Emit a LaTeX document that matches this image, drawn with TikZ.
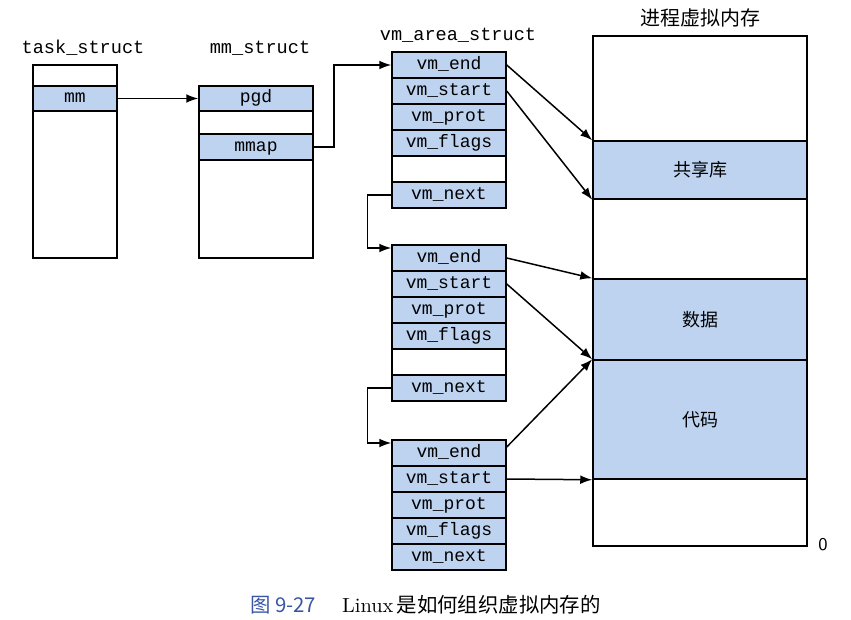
\documentclass[tikz,border=0pt]{standalone}
\usepackage{fontspec}
\setmonofont{Liberation Mono}
\newfontfamily\cjk{Noto Sans CJK SC}
\usetikzlibrary{arrows.meta}
\definecolor{fieldblue}{RGB}{190,211,240}
\definecolor{capblue}{RGB}{55,85,165}
\tikzset{
  slot/.style={draw, line width=0.75pt, minimum width=57pt, minimum height=13pt,
    inner sep=0pt, text height=6.3pt, text depth=1.8pt,
    font=\fontsize{9}{10}\selectfont\ttfamily},
  field/.style={slot, fill=fieldblue},
  gap/.style={slot, fill=white},
  band/.style={draw, fill=fieldblue, line width=0.75pt, minimum width=107pt,
    inner sep=0pt, font=\cjk\fontsize{9}{10}\selectfont},
  head/.style={font=\fontsize{9.3}{11}\selectfont\ttfamily},
  ptr/.style={-{Latex[length=6pt,width=4.4pt]}, line width=0.75pt},
}
\begin{document}
\begin{tikzpicture}[x=0.5pt, y=-0.5pt]
  \useasboundingbox (0,0) rectangle (851,620);

  % task_struct and mm_struct
  \node[head] (taskhead) at (83,48) {task\_struct};
  \node[draw, line width=0.75pt, minimum width=42pt, minimum height=96.5pt] (task) at (75,161.5) {};
  \node[field, minimum width=42pt, minimum height=12.5pt] (mm) at (75,98.5) {mm};

  \node[head] (mmhead) at (260,48) {mm\_struct};
  \node[draw, line width=0.75pt, minimum width=57pt, minimum height=86pt] (mmstr) at (256,172) {};
  \node[field, minimum height=12.5pt] (pgd) at (256,98.5) {pgd};
  \node[field] (mmap) at (256,147) {mmap};

  % vm_area_struct list
  \node[head] (vmhead) at (458,35) {vm\_area\_struct};
  \node[field] (enda) at (449,65) {vm\_end};
  \node[field] (starta) at (449,91) {vm\_start};
  \node[field] (prota) at (449,117) {vm\_prot};
  \node[field] (flagsa) at (449,143) {vm\_flags};
  \node[gap] (gapa) at (449,169) {};
  \node[field] (nexta) at (449,195) {vm\_next};

  \node[field] (endb) at (449,258) {vm\_end};
  \node[field] (startb) at (449,284) {vm\_start};
  \node[field] (protb) at (449,310) {vm\_prot};
  \node[field] (flagsb) at (449,336) {vm\_flags};
  \node[gap] (gapb) at (449,362) {};
  \node[field] (nextb) at (449,388) {vm\_next};

  \node[field] (endc) at (449,453) {vm\_end};
  \node[field] (startc) at (449,479) {vm\_start};
  \node[field] (protc) at (449,505) {vm\_prot};
  \node[field] (flagsc) at (449,531) {vm\_flags};
  \node[field] (nextc) at (449,557) {vm\_next};

  % process virtual memory
  \node[font=\cjk\fontsize{10}{12}\selectfont] (memhead) at (700,18) {进程虚拟内存};
  \node[draw, line width=0.75pt, minimum width=107pt, minimum height=255pt] (mem) at (700,291) {};
  \node[band, minimum height=29pt] (shlib) at (700,170) {共享库};
  \node[band, minimum height=40.5pt] (data) at (700,319.5) {数据};
  \node[band, minimum height=59.5pt] (code) at (700,419.5) {代码};
  \node[font=\sffamily\fontsize{9}{10}\selectfont] (zero) at (823,545) {0};

  \begin{scope}[ptr]
    \draw (mm.east) to (pgd.west);
    \draw (mmap.east) -- ++(20,0) |- (enda.west);
    \draw (nexta.west) -- ++(-24,0) |- ([yshift=5pt]endb.west);
    \draw (nextb.west) -- ++(-24,0) |- ([yshift=5pt]endc.west);
    \draw (enda.east) to (shlib.north west);
    \draw (starta.east) to (shlib.south west);
    \draw (endb.east) to (data.north west);
    \draw (startb.east) to (code.north west);
    \draw ([yshift=3pt]endc.east) to (code.north west);
    \draw (startc.east) to (code.south west);
  \end{scope}

  % caption
  \node[anchor=west, font=\fontsize{10.2}{12}\selectfont] (caption) at (243,605)
    {{\color{capblue}\cjk 图 9-27}\hspace{13pt}Linux\,{\cjk 是如何组织虚拟内存的}};
\end{tikzpicture}
\end{document}
